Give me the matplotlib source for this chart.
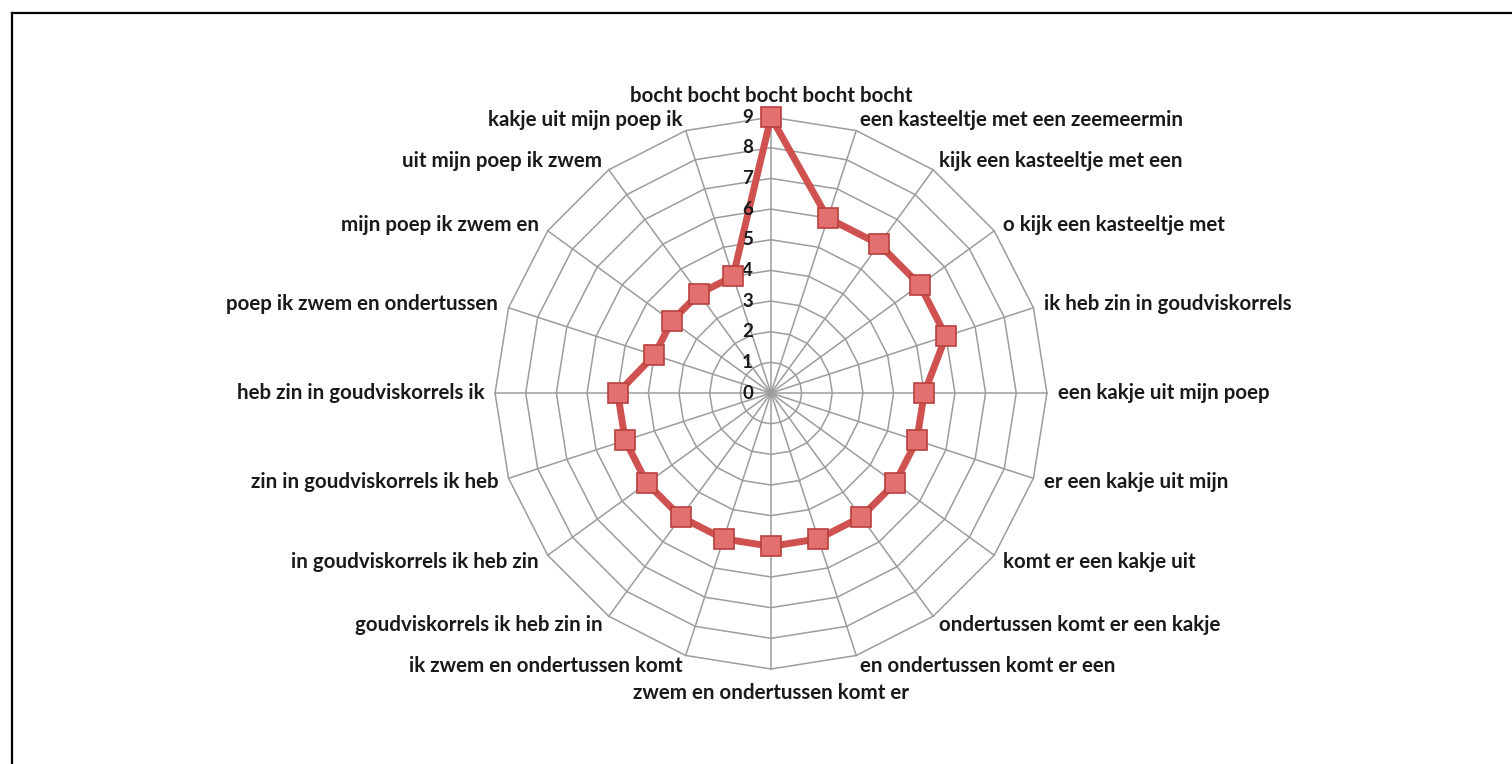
import matplotlib
matplotlib.use("Agg")
import matplotlib.pyplot as plt
from matplotlib.lines import Line2D
import numpy as np

# Data: categories clockwise from the top, and the single series
categories = [
    "bocht bocht bocht bocht bocht",
    "een kasteeltje met een zeemeermin",
    "kijk een kasteeltje met een",
    "o kijk een kasteeltje met",
    "ik heb zin in goudviskorrels",
    "een kakje uit mijn poep",
    "er een kakje uit mijn",
    "komt er een kakje uit",
    "ondertussen komt er een kakje",
    "en ondertussen komt er een",
    "zwem en ondertussen komt er",
    "ik zwem en ondertussen komt",
    "goudviskorrels ik heb zin in",
    "in goudviskorrels ik heb zin",
    "zin in goudviskorrels ik heb",
    "heb zin in goudviskorrels ik",
    "poep ik zwem en ondertussen",
    "mijn poep ik zwem en",
    "uit mijn poep ik zwem",
    "kakje uit mijn poep ik",
]
values = [9, 6, 6, 6, 6, 5, 5, 5, 5, 5, 5, 5, 5, 5, 5, 5, 4, 4, 4, 4]
rings = list(range(0, 10))

plt.rcParams["font.family"] = ["Lato", "DejaVu Sans"]

fig = plt.figure(figsize=(15.12, 7.64), dpi=100)
ax = fig.add_axes([0.3274, 0.1243, 0.365, 0.7225], projection="polar")
ax.set_theta_zero_location("N")
ax.set_theta_direction(-1)
ax.set_ylim(0, 9)
ax.set_axis_off()

n = len(categories)
theta = np.linspace(0, 2 * np.pi, n, endpoint=False)
theta_closed = np.append(theta, theta[0])

# polygon grid and spokes
grid_col = "#9c9c9c"
for r in rings[1:]:
    ax.plot(theta_closed, [r] * (n + 1), color=grid_col, lw=1.1, zorder=1, clip_on=False)
for t in theta:
    ax.plot([t, t], [0, 9], color=grid_col, lw=1.1, zorder=1, clip_on=False)

# series
vals_closed = values + values[:1]
ax.plot(theta_closed, vals_closed, color="#cf5250", lw=5, zorder=3, clip_on=False)
ax.plot(theta, values, ls="none", marker="s", ms=14.5, mfc="#e2706e",
        mec="#b8403d", mew=1.2, zorder=4, clip_on=False)

# radial tick labels
for r in rings:
    ax.annotate(str(r), xy=(0, r), xytext=(-13, 0), textcoords="offset points",
                ha="right", va="center", fontsize=13.5, fontweight="bold",
                color="#1a1a1a", annotation_clip=False)

# category labels
for t, lab in zip(theta, categories):
    s = np.sin(t)
    if abs(s) < 0.01:
        ha = "center"
        if np.cos(t) > 0:
            va, rr = "bottom", 9.35
        else:
            va, rr = "top", 9.45
    else:
        ha = "left" if s > 0 else "right"
        va, rr = "center", 9.35
    ax.text(t, rr, lab, ha=ha, va=va, fontsize=14.8, fontweight="bold",
            color="#1a1a1a")

# chart frame (top and left edges visible)
fig.add_artist(Line2D([12 / 1512, 1.0], [1 - 13 / 764, 1 - 13 / 764],
                      transform=fig.transFigure, color="black", lw=1.6))
fig.add_artist(Line2D([12 / 1512, 12 / 1512], [0.0, 1 - 13 / 764],
                      transform=fig.transFigure, color="black", lw=1.6))

fig.savefig("out.png", dpi=100, facecolor="white")
